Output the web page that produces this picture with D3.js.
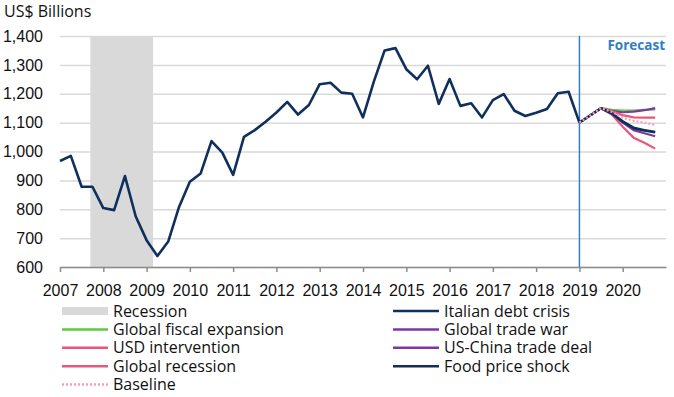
<!DOCTYPE html>
<html>
<head>
<meta charset="utf-8">
<script src="https://cdn.jsdelivr.net/npm/d3@7"></script>
<style>
    body { margin: 0; background: #fff; }
    svg { display: block; font-family: 'Open Sans', sans-serif; }
</style>
</head>
<body>
<div class="container"></div>
<script>
const w = 674;
const h = 397;

// quarterly history, 2007Q1 .. 2019Q1
const histStart = 2007;
const histValues = [
    967, 985, 878, 878,
    804, 797, 915, 775,
    693, 638, 688, 808,
    895, 924, 1036, 996,
    919, 1051, 1074, 1103,
    1135, 1172, 1128, 1161,
    1233, 1238, 1204, 1200,
    1118, 1242, 1350, 1358,
    1285, 1250, 1297, 1165,
    1251, 1158, 1167, 1118,
    1178, 1199, 1141, 1123,
    1134, 1147, 1202, 1207,
    1100
];

// forecast scenarios, 2019Q1 .. 2020Q4
const fcStart = 2019;
const fiscalExpansion = [1100, 1125, 1150, 1144, 1142, 1142, 1144, 1146];
const usChinaDeal = [1100, 1125, 1150, 1140, 1136, 1138, 1143, 1150];
const usdIntervention = [1100, 1125, 1150, 1138, 1126, 1118, 1117, 1117];
const baseline = [1100, 1125, 1150, 1137, 1117, 1106, 1100, 1092];
const italianDebt = [1100, 1125, 1150, 1132, 1103, 1080, 1072, 1066];
const foodPrice = [1100, 1125, 1150, 1133, 1105, 1083, 1074, 1068];
const tradeWar = [1100, 1125, 1150, 1130, 1100, 1074, 1063, 1053];
const globalRecession = [1100, 1125, 1150, 1128, 1086, 1048, 1030, 1010];

const recession = [2007.7, 2009.15];
const forecastYear = 2019;
const yearTicks = d3.range(2007, 2021);
const valueTicks = [600, 700, 800, 900, 1000, 1100, 1200, 1300, 1400];

const navy = '#0f2f5c';
const purple = '#7b3a9f';
const green = '#5ec83f';
const red = '#e8577a';
const pink = '#f3a0b6';
const blue = '#2f7ec6';

const margin = { top: 36, right: 8, bottom: 130, left: 60 };

const x = d3.scaleLinear()
    .domain([2007, 2021])
    .range([margin.left, w - margin.right]);
const y = d3.scaleLinear()
    .domain([600, 1400])
    .range([h - margin.bottom, margin.top]);

const svg = d3.select('.container')
    .append('svg')
    .attr('width', w)
    .attr('height', h)
    .attr('viewBox', [0, 0, w, h]);

// gridlines + y labels
svg.append('g')
    .attr('transform', `translate(${margin.left}, 0)`)
    .call(d3.axisLeft(y)
        .tickValues(valueTicks)
        .tickFormat(d3.format(','))
        .tickSize(-(x.range()[1] - margin.left))
        .tickPadding(17))
    .call(g => g.select('.domain').remove())
    .call(g => g.selectAll('.tick line')
        .attr('stroke', '#d9d9d9')
        .attr('stroke-width', 1.5))
    .call(g => g.selectAll('.tick text')
        .attr('fill', '#111')
        .style('font-size', '16px'));

// recession band (covers the gridlines)
svg.append('rect')
    .attr('x', x(recession[0]))
    .attr('y', y(1400))
    .attr('width', x(recession[1]) - x(recession[0]))
    .attr('height', y(600) - y(1400))
    .attr('fill', '#d9d9d9');

// x axis
svg.append('g')
    .attr('transform', `translate(0, ${y(600)})`)
    .call(d3.axisBottom(x)
        .tickValues(yearTicks)
        .tickFormat(d3.format('d'))
        .tickSize(5)
        .tickSizeOuter(0)
        .tickPadding(12.5))
    .call(g => g.select('.domain').attr('stroke', '#8c8c8c').attr('stroke-width', 1.5))
    .call(g => g.selectAll('.tick line').attr('stroke', '#8c8c8c').attr('stroke-width', 1.5))
    .call(g => g.selectAll('.tick text')
        .attr('fill', '#111')
        .style('font-size', '16px'));

svg.append('text')
    .attr('x', 4)
    .attr('y', 17)
    .attr('fill', '#111')
    .style('font-size', '16px')
    .text('US$ Billions');

// forecast marker
svg.append('line')
    .attr('x1', x(forecastYear))
    .attr('x2', x(forecastYear))
    .attr('y1', y(1400))
    .attr('y2', y(600))
    .attr('stroke', blue)
    .attr('stroke-width', 1.5);

svg.append('text')
    .attr('x', x.range()[1] - 1)
    .attr('y', 50)
    .attr('text-anchor', 'end')
    .attr('fill', blue)
    .style('font-size', '13.5px')
    .style('font-weight', 'bold')
    .text('Forecast');

const line = d3.line()
    .x(d => x(d[0]))
    .y(d => y(d[1]));

const toPoints = (values, start) => values.map((v, i) => [start + i / 4, v]);

svg.append('path')
    .attr('d', line(toPoints(histValues, histStart)))
    .attr('fill', 'none')
    .attr('stroke', navy)
    .attr('stroke-width', 2.6)
    .attr('stroke-linejoin', 'round');

// draw order: back to front
const scenarios = [
    { name: 'Global fiscal expansion', values: fiscalExpansion, color: green },
    { name: 'US-China trade deal', values: usChinaDeal, color: purple },
    { name: 'USD intervention', values: usdIntervention, color: red },
    { name: 'Global recession', values: globalRecession, color: red },
    { name: 'Global trade war', values: tradeWar, color: purple },
    { name: 'Food price shock', values: foodPrice, color: navy },
    { name: 'Italian debt crisis', values: italianDebt, color: navy },
    { name: 'Baseline', values: baseline, color: pink, dash: '2,2' }
];

svg.append('g')
    .selectAll('path')
    .data(scenarios)
    .join('path')
    .attr('d', d => line(toPoints(d.values, fcStart)))
    .attr('fill', 'none')
    .attr('stroke', d => d.color)
    .attr('stroke-width', 2.2)
    .attr('stroke-linejoin', 'round')
    .attr('stroke-dasharray', d => d.dash || null);

// legend
const legendItems = [
    { name: 'Recession', type: 'rect', color: '#d9d9d9', col: 0, row: 0 },
    { name: 'Global fiscal expansion', color: green, col: 0, row: 1 },
    { name: 'USD intervention', color: red, col: 0, row: 2 },
    { name: 'Global recession', color: red, col: 0, row: 3 },
    { name: 'Baseline', color: pink, dash: '2,2', col: 0, row: 4 },
    { name: 'Italian debt crisis', color: navy, col: 1, row: 0 },
    { name: 'Global trade war', color: purple, col: 1, row: 1 },
    { name: 'US-China trade deal', color: purple, col: 1, row: 2 },
    { name: 'Food price shock', color: navy, col: 1, row: 3 }
];
const colX = [62, 393];
const rowY = d3.scaleLinear().domain([0, 4]).range([311, 384.5]);

const legend = svg.append('g')
    .selectAll('g')
    .data(legendItems)
    .join('g')
    .attr('transform', d => `translate(${colX[d.col]}, ${rowY(d.row)})`);

legend.filter(d => d.type === 'rect')
    .append('rect')
    .attr('x', 0)
    .attr('y', -4)
    .attr('width', 46)
    .attr('height', 8)
    .attr('fill', d => d.color);

legend.filter(d => d.type !== 'rect')
    .append('line')
    .attr('x1', 0)
    .attr('x2', 46)
    .attr('stroke', d => d.color)
    .attr('stroke-width', 2.5)
    .attr('stroke-dasharray', d => d.dash || null);

legend.append('text')
    .attr('x', 51)
    .attr('dy', '0.35em')
    .attr('fill', '#111')
    .style('font-size', '16px')
    .text(d => d.name);
</script>
</body>
</html>
